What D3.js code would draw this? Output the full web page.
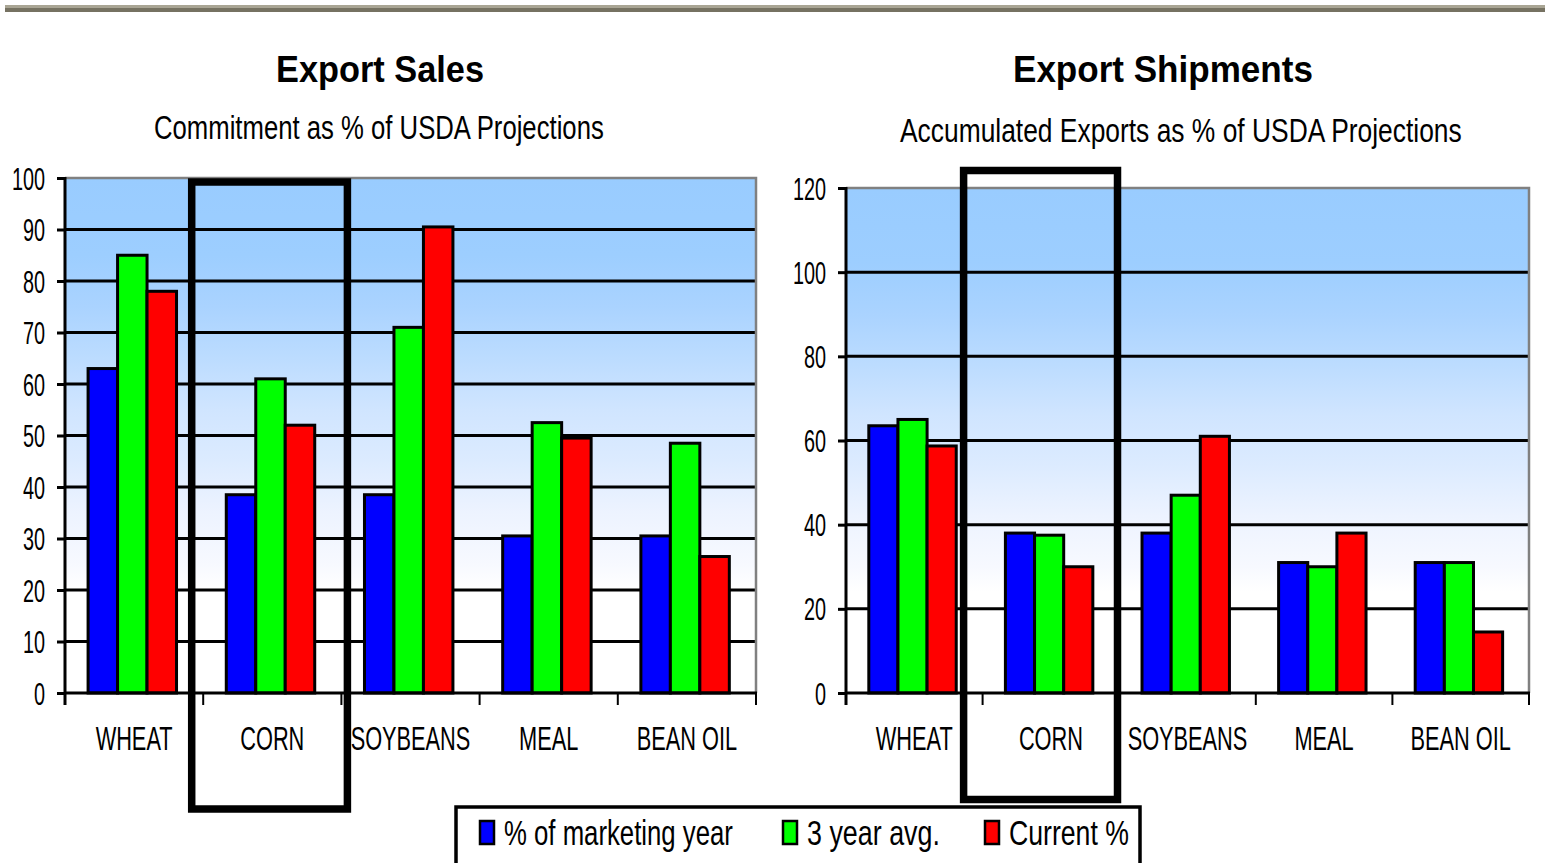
<!DOCTYPE html>
<html><head><meta charset="utf-8">
<script src="https://cdn.jsdelivr.net/npm/d3@7"></script>
<style>body{margin:0;background:#fff}svg{display:block}text{font-family:"Liberation Sans",Arial,sans-serif}</style>
</head><body>
<svg id="c" width="1545" height="863"></svg>
<script>
// ---------- data ----------
const categories = ["WHEAT", "CORN", "SOYBEANS", "MEAL", "BEAN OIL"];
const seriesNames = ["% of marketing year", "3 year avg.", "Current %"];
const seriesColors = ["#0000ff", "#00ff00", "#ff0000"];

const salesMarketingYear = [63, 38.5, 38.5, 30.5, 30.5];
const salesThreeYearAvg  = [85, 61, 71, 52.5, 48.5];
const salesCurrent       = [78, 52, 90.5, 49.5, 26.5];
const salesTicks = [0, 10, 20, 30, 40, 50, 60, 70, 80, 90, 100];

const shipMarketingYear = [63.5, 38, 38, 31, 31];
const shipThreeYearAvg  = [65, 37.5, 47, 30, 31];
const shipCurrent       = [58.7, 30, 61, 38, 14.5];
const shipTicks = [0, 20, 40, 60, 80, 100, 120];

const highlightCategory = "CORN";

// ---------- drawing ----------
const svg = d3.select("#c");
const defs = svg.append("defs");

// top rule
svg.append("rect").attr("x", 5).attr("y", 5).attr("width", 1540).attr("height", 3).attr("fill", "#a9a594");
svg.append("rect").attr("x", 5).attr("y", 8).attr("width", 1540).attr("height", 4).attr("fill", "#767262");

const grad = defs.append("linearGradient").attr("id", "bg").attr("x1", 0).attr("y1", 0).attr("x2", 0).attr("y2", 1);
[[0, "#99ccff"], [0.15, "#9dceff"], [0.25, "#aad3ff"], [0.35, "#bcdcff"], [0.45, "#d0e5ff"],
 [0.55, "#dcebff"], [0.65, "#edf3ff"], [0.75, "#f7f9ff"], [0.8, "#ffffff"], [1, "#ffffff"]]
  .forEach(([o, c]) => grad.append("stop").attr("offset", o).attr("stop-color", c));

// text squeezed horizontally to a target width (start at left edge)
function fitTextLeft(g, str, left, y, size, width, weight) {
  const t = g.append("text").attr("x", 0).attr("y", 0)
    .attr("font-size", size).attr("font-weight", weight || "normal").attr("fill", "#000").text(str);
  const natural = t.node().getComputedTextLength();
  t.attr("transform", `translate(${left},${y}) scale(${width / natural},1)`);
  return t;
}
function fitText(g, str, cx, y, size, width, weight) {
  return fitTextLeft(g, str, cx - width / 2, y, size, width, weight);
}

function drawChart(cfg) {
  const g = svg.append("g");
  const x = d3.scaleBand().domain(categories).range([cfg.x0, cfg.x1]).padding(0);
  const y = d3.scaleLinear().domain([0, cfg.yMax]).range([cfg.y1, cfg.y0]);
  const inner = d3.scaleBand().domain(d3.range(seriesNames.length))
    .range([x.bandwidth() * 0.167, x.bandwidth() * 0.807]).padding(0);

  // titles
  fitText(g, cfg.title, cfg.titleX, 82, 37, cfg.titleW, "bold");
  fitText(g, cfg.subtitle, cfg.subX, cfg.subY, 34, cfg.subW);

  // plot background
  g.append("rect").attr("x", cfg.x0).attr("y", cfg.y0)
    .attr("width", cfg.x1 - cfg.x0).attr("height", cfg.y1 - cfg.y0).attr("fill", "url(#bg)");

  // gridlines
  g.selectAll(".grid").data(cfg.ticks.filter(t => t > 0 && t < cfg.yMax)).join("line")
    .attr("x1", cfg.x0).attr("x2", cfg.x1).attr("y1", d => y(d)).attr("y2", d => y(d))
    .attr("stroke", "#000").attr("stroke-width", 3);

  // plot border (top/right gray)
  g.append("path")
    .attr("d", `M${cfg.x0},${cfg.y0}H${cfg.x1}V${cfg.y1}`)
    .attr("fill", "none").attr("stroke", "#808080").attr("stroke-width", 2.5);

  // bars
  const series = cfg.values;
  categories.forEach((cat, i) => {
    series.forEach((vals, j) => {
      g.append("rect")
        .attr("x", x(cat) + inner(j)).attr("y", y(vals[i]))
        .attr("width", inner.bandwidth()).attr("height", y(0) - y(vals[i]))
        .attr("fill", seriesColors[j]).attr("stroke", "#000").attr("stroke-width", 3);
    });
  });

  // y axis
  const ya = g.append("g").attr("transform", `translate(${cfg.x0},0)`)
    .call(d3.axisLeft(y).tickValues(cfg.ticks).tickSize(8).tickSizeOuter(0).tickFormat(d3.format("d")));
  ya.select(".domain").remove();
  ya.selectAll(".tick line").attr("stroke", "#000").attr("stroke-width", 3);
  ya.selectAll(".tick text").attr("x", 0).attr("dy", null)
    .attr("transform", "translate(-20,11) scale(0.62,1)")
    .attr("font-size", 32).attr("fill", "#000").attr("text-anchor", "end");
  g.append("line").attr("x1", cfg.x0).attr("x2", cfg.x0).attr("y1", cfg.y0 - 1).attr("y2", cfg.y1 + 12)
    .attr("stroke", "#000").attr("stroke-width", 3);

  // x axis
  g.append("line").attr("x1", cfg.x0).attr("x2", cfg.x1 + 1).attr("y1", y(0)).attr("y2", y(0))
    .attr("stroke", "#000").attr("stroke-width", 3);
  const bounds = categories.map(c => x(c)).concat([cfg.x1]);
  g.selectAll(".xt").data(bounds.slice(1)).join("line")
    .attr("x1", d => d).attr("x2", d => d).attr("y1", y(0)).attr("y2", y(0) + 12)
    .attr("stroke", "#000").attr("stroke-width", 2);
  g.selectAll(".xl").data(categories).join("text")
    .attr("transform", d => `translate(${x(d) + x.bandwidth() / 2},${y(0) + 57}) scale(0.64,1)`)
    .attr("text-anchor", "middle").attr("font-size", 34).attr("fill", "#000").text(d => d);

  // highlight box
  g.append("rect")
    .attr("x", x(highlightCategory) + cfg.boxL)
    .attr("y", cfg.boxTop)
    .attr("width", x.bandwidth() - cfg.boxL + cfg.boxR)
    .attr("height", cfg.boxBottom - cfg.boxTop)
    .attr("fill", "none").attr("stroke", "#000").attr("stroke-width", 7.5);
}

drawChart({
  title: "Export Sales", titleX: 380, titleW: 208,
  subtitle: "Commitment as % of USDA Projections", subX: 379, subY: 139, subW: 450,
  x0: 65, x1: 756, y0: 178, y1: 693, yMax: 100, ticks: salesTicks,
  values: [salesMarketingYear, salesThreeYearAvg, salesCurrent],
  boxL: -11.5, boxR: 6, boxTop: 182, boxBottom: 809
});
drawChart({
  title: "Export Shipments", titleX: 1163, titleW: 300,
  subtitle: "Accumulated Exports as % of USDA Projections", subX: 1181, subY: 142, subW: 562,
  x0: 846, x1: 1529, y0: 188, y1: 693, yMax: 120, ticks: shipTicks,
  values: [shipMarketingYear, shipThreeYearAvg, shipCurrent],
  boxL: -19, boxR: -1.7, boxTop: 170.5, boxBottom: 799.5
});

// legend
const lg = svg.append("g");
lg.append("rect").attr("x", 456).attr("y", 807).attr("width", 684).attr("height", 80)
  .attr("fill", "#fff").attr("stroke", "#000").attr("stroke-width", 3.5);
const legendSquareX = [480, 783, 985];
const legendTextW = [229, 133, 120];
seriesNames.forEach((name, j) => {
  lg.append("rect").attr("x", legendSquareX[j]).attr("y", 821).attr("width", 14).attr("height", 23)
    .attr("fill", seriesColors[j]).attr("stroke", "#000").attr("stroke-width", 2.5);
  fitTextLeft(lg, name, legendSquareX[j] + 24, 845, 36, legendTextW[j]);
});
</script>
</body></html>
